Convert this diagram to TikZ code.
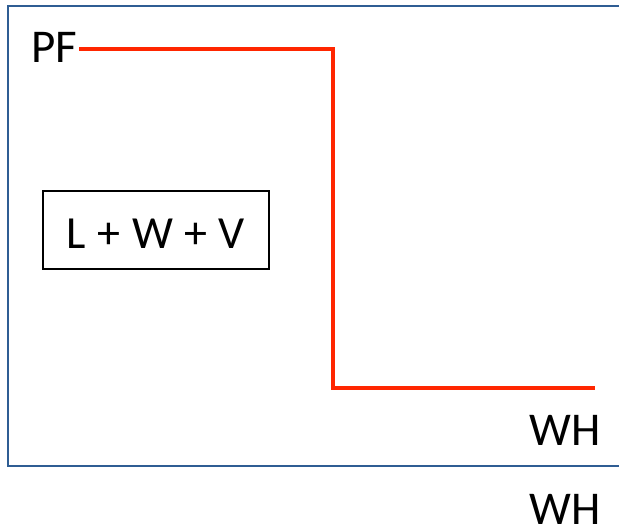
\documentclass[tikz,border=0pt]{standalone}
\usepackage{fontspec}
\setmainfont{Carlito}
\definecolor{frameblue}{RGB}{47,93,147}
\definecolor{curvered}{RGB}{255,38,0}
\newcommand{\widesp}{\hspace{11.5pt}}
\begin{document}
\begin{tikzpicture}[x=1pt,y=-1pt,
  lbl/.style={inner sep=0pt, outer sep=0pt, font=\fontsize{47}{56}\selectfont},
  phasebox/.style={draw=black, line width=1.5pt, inner sep=0pt,
    minimum width=226pt, minimum height=78pt, text height=38pt, text depth=0pt,
    font=\fontsize{46}{55}\selectfont},
  pathline/.style={draw=curvered, line width=4pt, line join=miter}]
  \useasboundingbox (0,0) rectangle (619,529);
  % open frame (cut off on the right)
  \draw[frameblue, line width=2.2pt] (619,6) -- (8,6) -- (8,466) -- (619,466);
  % labels
  \node[lbl, anchor=base east] (pf) at (77,63) {PF};
  \node[lbl, anchor=base east] (wh1) at (601,446) {WH};
  \node[lbl, anchor=base east] (wh2) at (601,524) {WH};
  \node[phasebox] (lwv) at (156,230) {L\widesp+\widesp W\widesp+\widesp V};
  % step-shaped path
  \coordinate (c1) at (333,49);
  \coordinate (c2) at (333,388);
  \coordinate (e) at (595,388);
  \draw[pathline] ([xshift=2pt]pf.east |- c1) -- (c1) -- (c2) -- (e);
\end{tikzpicture}
\end{document}
